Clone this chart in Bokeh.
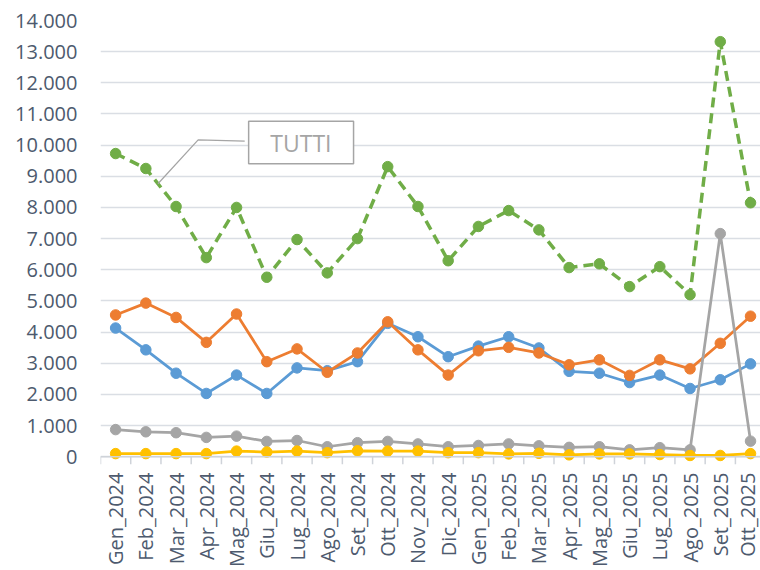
from bokeh.plotting import figure
from bokeh.models import Range1d, FixedTicker, CustomJSTickFormatter, Span
from bokeh.embed import file_html
from bokeh.resources import INLINE
from bokeh.core.properties import value
from math import pi

months = ["Gen_2024", "Feb_2024", "Mar_2024", "Apr_2024", "Mag_2024", "Giu_2024",
          "Lug_2024", "Ago_2024", "Set_2024", "Ott_2024", "Nov_2024", "Dic_2024",
          "Gen_2025", "Feb_2025", "Mar_2025", "Apr_2025", "Mag_2025", "Giu_2025",
          "Lug_2025", "Ago_2025", "Set_2025", "Ott_2025"]

serie_blu = [4130, 3430, 2680, 2030, 2620, 2030, 2850, 2760, 3050, 4280, 3850, 3210,
             3550, 3850, 3490, 2740, 2680, 2380, 2620, 2190, 2470, 2980]
serie_arancio = [4550, 4930, 4470, 3670, 4580, 3050, 3460, 2710, 3330, 4330, 3430, 2620,
                 3400, 3510, 3330, 2950, 3110, 2610, 3110, 2820, 3640, 4510]
serie_grigia = [870, 800, 770, 620, 660, 490, 520, 320, 450, 490, 410, 320,
                360, 410, 350, 300, 320, 220, 290, 220, 7160, 500]
serie_gialla = [100, 100, 100, 100, 180, 150, 180, 130, 190, 180, 180, 130,
                130, 90, 110, 60, 90, 90, 70, 40, 40, 100]
tutti = [9730, 9250, 8030, 6390, 8000, 5760, 6970, 5900, 7000, 9310, 8030, 6290,
         7390, 7900, 7280, 6070, 6190, 5460, 6100, 5200, 13320, 8150]

y_ticks = list(range(0, 14001, 1000))
callout_label = "TUTTI"

FONT = "Open Sans"
AXIS_TEXT = "#4D5A6E"
GRID = "#DADEE4"

x = list(range(len(months)))

p = figure(width=760, height=570,
           x_range=Range1d(-0.5, 21.33), y_range=Range1d(-250, 14000),
           output_backend="svg", toolbar_location=None,
           min_border_left=100, min_border_right=0,
           min_border_top=20, min_border_bottom=106)
p.outline_line_color = None
p.background_fill_color = "white"
p.border_fill_color = "white"

# y axis
p.yaxis.ticker = FixedTicker(ticks=y_ticks)
p.yaxis.formatter = CustomJSTickFormatter(
    code=r"return Math.round(tick).toString().replace(/\B(?=(\d{3})+(?!\d))/g, '.');")
p.yaxis.axis_line_color = None
p.yaxis.major_tick_line_color = None
p.yaxis.minor_tick_line_color = None
p.yaxis.major_tick_out = 0
p.yaxis.major_tick_in = 0
p.yaxis.major_label_standoff = 23
p.yaxis.major_label_text_font = FONT
p.yaxis.major_label_text_font_size = "20px"
p.yaxis.major_label_text_color = AXIS_TEXT

# x axis
p.xaxis.ticker = FixedTicker(ticks=x)
p.xaxis.major_label_overrides = {i: m for i, m in enumerate(months)}
p.xaxis.axis_line_color = None
p.xaxis.major_tick_line_color = None
p.xaxis.minor_tick_line_color = None
p.xaxis.major_tick_out = 0
p.xaxis.major_tick_in = 0
p.xaxis.major_label_orientation = pi / 2
p.xaxis.major_label_standoff = 8
p.xaxis.major_label_text_font = FONT
p.xaxis.major_label_text_font_size = "20px"
p.xaxis.major_label_text_color = AXIS_TEXT

p.xgrid.grid_line_color = None
p.ygrid.grid_line_color = GRID
p.ygrid.grid_line_width = 1.5

# category axis line at zero, with ticks between categories
p.add_layout(Span(location=0, dimension="width", line_color="#CFD3D9", line_width=1.5))
edges = [i - 0.5 for i in range(len(months) + 1)]
p.segment(x0=edges, y0=[0] * len(edges), x1=edges, y1=[p.y_range.start] * len(edges),
          line_color="#CFD3D9", line_width=1.5)

series = [
    (serie_blu, "#5B9BD5"),
    (serie_arancio, "#ED7D31"),
    (serie_grigia, "#A5A5A5"),
    (serie_gialla, "#FFC000"),
]
for ys, col in series:
    p.line(x, ys, line_color=col, line_width=2.75)
    p.scatter(x, ys, size=10.5, fill_color=col, line_color=col)

p.line(x, tutti, line_color="#70AD47", line_width=3.5, line_dash="10 6")
p.scatter(x, tutti, size=10.5, fill_color="#70AD47", line_color="#70AD47")

# callout for TUTTI (anchored on the Feb->Mar 2024 segment)
frac = 0.4
ax = x[1] + frac
ay = tutti[1] + frac * (tutti[2] - tutti[1])
p.line([ax, 2.73, 4.27], [ay, 10170, 10125], line_color="#A5A5A5", line_width=1.25)
p.quad(left=[4.4], right=[7.87], bottom=[9400], top=[10767],
       fill_color="white", line_color="#A5A5A5", line_width=1.5)
p.text(x=[6.13], y=[10083], text=[callout_label], text_align="center",
       text_baseline="middle", text_font=value(FONT), text_font_size="23px",
       text_color="#A5A5A5")

open("out.html", "w").write(file_html(p, INLINE))
